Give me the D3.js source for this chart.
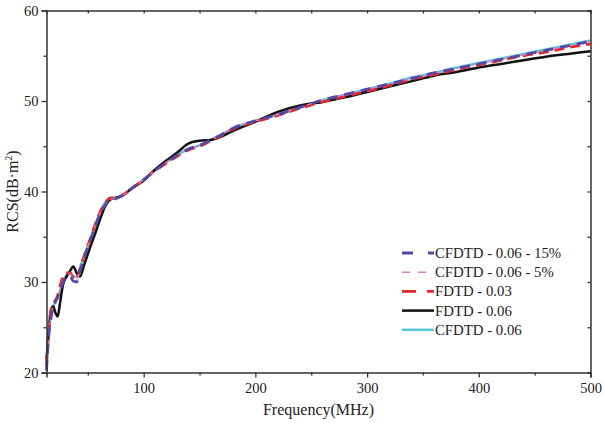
<!DOCTYPE html>
<html><head><meta charset="utf-8">
<script src="https://cdn.jsdelivr.net/npm/d3@7"></script>
<style>body{margin:0;background:#fff}svg{display:block}text{font-family:"Liberation Serif","Times New Roman",serif;fill:#222}</style>
</head><body><svg id="c" width="603" height="423"></svg>
<script>
const freq = [13,15,17,19,21,23,25,28,31,34,37,40,43,47,52,57,62,66,70,75,80,90,100,110,120,130,140,150,160,170,180,200,220,240,260,280,300,320,340,360,380,400,420,440,460,480,500];
const cfdto6 = [20.5,24.5,26.3,27.3,27.8,28.3,28.9,30.0,30.8,31.0,30.6,30.6,31.6,33.0,34.6,36.4,38.0,38.9,39.2,39.3,39.5,40.4,41.3,42.3,43.2,44.0,44.7,45.1,45.7,46.3,47.0,47.8,48.5,49.3,50.1,50.7,51.3,51.9,52.6,53.1,53.7,54.2,54.7,55.2,55.7,56.2,56.7];
const fdtd06 = [21.5,24.5,26.9,27.3,26.6,26.2,27.6,29.8,30.6,31.2,31.7,31.0,30.6,32.0,33.8,35.5,37.3,38.5,39.1,39.3,39.5,40.4,41.2,42.4,43.4,44.3,45.3,45.6,45.7,46.1,46.7,47.7,48.8,49.5,49.9,50.4,51.0,51.6,52.2,52.8,53.2,53.7,54.1,54.5,54.9,55.2,55.5];
const fdtd03 = [20.8,25.0,26.8,27.6,28.0,28.5,29.5,30.6,31.0,31.0,30.5,30.3,31.4,33.0,34.7,36.5,38.0,38.8,39.3,39.3,39.5,40.4,41.3,42.3,43.1,43.9,44.6,45.0,45.6,46.2,46.9,47.7,48.4,49.2,49.9,50.5,51.1,51.7,52.4,52.9,53.5,54.0,54.5,55.0,55.4,55.9,56.3];
const cfdtd5 = [20.4,24.3,26.2,27.3,27.9,28.4,29.1,30.2,30.8,30.9,30.4,30.3,31.4,33.0,34.6,36.4,37.9,38.7,39.1,39.3,39.5,40.4,41.3,42.3,43.2,44.0,44.7,45.1,45.7,46.3,47.0,47.8,48.5,49.3,50.1,50.7,51.3,51.9,52.5,53.1,53.6,54.1,54.6,55.1,55.6,56.1,56.6];
const cfdtd15 = [20.2,24.0,26.0,27.2,27.8,28.3,29.0,30.0,30.6,30.6,30.1,30.0,31.2,32.8,34.5,36.3,37.8,38.6,39.0,39.2,39.5,40.4,41.3,42.3,43.2,44.0,44.7,45.1,45.7,46.3,47.0,47.8,48.5,49.3,50.1,50.7,51.3,51.9,52.5,53.1,53.6,54.1,54.6,55.1,55.6,56.1,56.6];
const xTicks = [100,200,300,400,500];
const yTicks = [20,30,40,50,60];
const seriesNames = ["CFDTD - 0.06 - 15%","CFDTD - 0.06 - 5%","FDTD - 0.03","FDTD - 0.06","CFDTD - 0.06"];

const series = [
  {name:seriesNames[4], v:cfdto6, color:"#5cc6d2", w:2.5, dash:null, ldash:null},
  {name:seriesNames[3], v:fdtd06, color:"#111111", w:2.5, dash:null, ldash:null},
  {name:seriesNames[2], v:fdtd03, color:"#e8262b", w:2.8, dash:"10,6", ldash:"14,11"},
  {name:seriesNames[1], v:cfdtd5, color:"#d77fd0", w:1.4, dash:"6,5", ldash:"8,8"},
  {name:seriesNames[0], v:cfdtd15, color:"#5a45a8", w:2.8, dash:"10,7", ldash:"11,15"}
];

const svg = d3.select("#c");
const L=46.5, R=590.5, T=10.5, B=372.5;
const x = d3.scaleLinear().domain([13,500]).range([L,R]);
const y = d3.scaleLinear().domain([20,60]).range([B,T]);

const line = d3.line().x((d,i)=>x(freq[i])).y(d=>y(d)).curve(d3.curveMonotoneX);
const g = svg.append("g");
series.forEach(s=>{
  g.append("path").datum(s.v).attr("d",line).attr("fill","none")
   .attr("stroke",s.color).attr("stroke-width",s.w)
   .attr("stroke-dasharray",s.dash).attr("stroke-linejoin","round");
});

const axCol="#333";
const xMinor = d3.range(50,501,100);
svg.append("g").attr("transform",`translate(0,${B})`)
  .call(d3.axisBottom(x).tickValues(xTicks).tickSize(5).tickPadding(5));
svg.append("g").attr("transform",`translate(0,${B})`)
  .call(d3.axisBottom(x).tickValues(xMinor).tickSize(3).tickFormat("")).select(".domain").remove();
const yMinor = d3.range(25,60,10);
svg.append("g").attr("transform",`translate(${L},0)`)
  .call(d3.axisLeft(y).tickValues(yTicks).tickSize(5).tickPadding(3));
svg.append("g").attr("transform",`translate(${L},0)`)
  .call(d3.axisLeft(y).tickValues(yMinor).tickSize(3).tickFormat("")).select(".domain").remove();
svg.append("g").attr("transform",`translate(0,${T})`)
  .call(d3.axisBottom(x).tickValues(xTicks.concat(xMinor)).tickSize(3).tickFormat(""));
svg.append("g").attr("transform",`translate(${R},0)`)
  .call(d3.axisLeft(y).tickValues(yTicks.concat(yMinor)).tickSize(3).tickFormat(""));
svg.selectAll(".domain").attr("stroke",axCol).attr("stroke-width",1.5);
svg.selectAll(".tick line").attr("stroke",axCol).attr("stroke-width",1.3);
svg.selectAll(".tick text").attr("font-family","Liberation Serif, serif").attr("font-size",14.5).attr("fill","#222");

svg.append("text").attr("x",(L+R)/2).attr("y",415).attr("text-anchor","middle")
  .attr("font-size",16).text("Frequency(MHz)");
const yt = svg.append("text").attr("transform",`translate(18,${(T+B)/2}) rotate(-90)`)
  .attr("text-anchor","middle").attr("font-size",16);
yt.append("tspan").text("RCS(dB·m");
yt.append("tspan").attr("font-size",10).attr("dy",-6).text("2");
yt.append("tspan").attr("dy",6).text(")");

const legOrder = [4,3,2,1,0];
const ly0=253, ldy=19.2;
legOrder.forEach((si,k)=>{
  const s=series[si]; const yy=ly0+k*ldy;
  svg.append("line").attr("x1",402).attr("x2",434).attr("y1",yy).attr("y2",yy)
    .attr("stroke",s.color).attr("stroke-width",s.w).attr("stroke-dasharray",s.ldash);
  svg.append("text").attr("x",435).attr("y",yy+5).attr("font-size",14.8).text(s.name);
});
</script></body></html>
